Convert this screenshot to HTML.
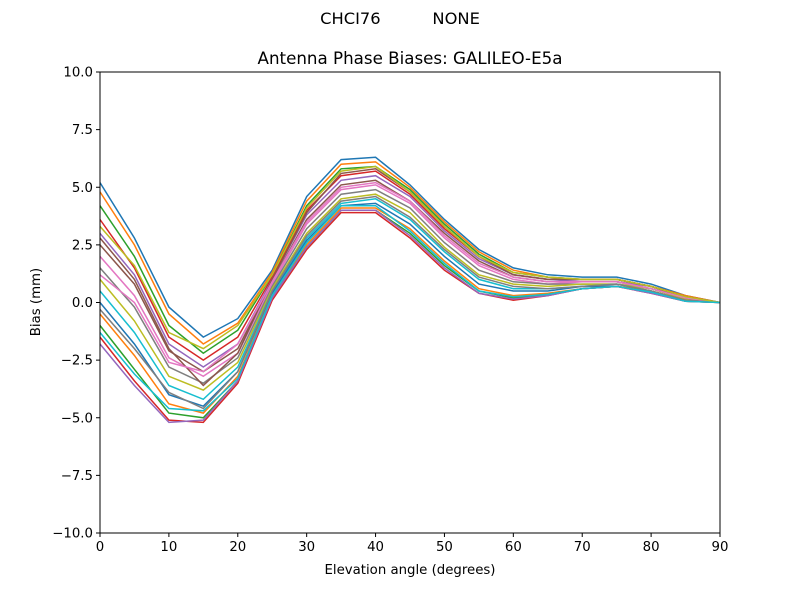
<!DOCTYPE html>
<html><head><meta charset="utf-8"><style>
body{margin:0;background:#fff;}
svg{display:block;font-family:"DejaVu Sans","Liberation Sans",sans-serif;}
</style></head><body>
<svg id="chart" width="800" height="600" viewBox="0 0 800 600" xmlns="http://www.w3.org/2000/svg">
<rect width="800" height="600" fill="#fff"/>
<text x="400" y="24" text-anchor="middle" font-size="16.3" xml:space="preserve">CHCI76          NONE</text>
<text x="410" y="64" text-anchor="middle" font-size="16.7">Antenna Phase Biases: GALILEO-E5a</text>
<g id="lines"></g>
<g id="axes"></g>
<text x="410" y="574" text-anchor="middle" font-size="13.3">Elevation angle (degrees)</text>
<text x="40" y="302" text-anchor="middle" font-size="13.3" transform="rotate(-90 40 302)">Bias (mm)</text>
</svg>
<script>
const elevations=[0,5,10,15,20,25,30,35,40,45,50,55,60,65,70,75,80,85,90];
const xTicks=[0,10,20,30,40,50,60,70,80,90];
const yTicks=[-10,-7.5,-5,-2.5,0,2.5,5,7.5,10];
const yTickLabels=["\u221210.0","\u22127.5","\u22125.0","\u22122.5","0.0","2.5","5.0","7.5","10.0"];
const s1=[5.2,2.8,-0.2,-1.5,-0.7,1.4,4.6,6.2,6.3,5.1,3.6,2.3,1.5,1.2,1.1,1.1,0.8,0.3,0];
const s2=[4.8,2.5,-0.5,-1.8,-0.9,1.3,4.4,6.0,6.1,5.0,3.5,2.2,1.4,1.1,1.0,1.0,0.7,0.3,0];
const s3=[4.2,2.0,-1.0,-2.2,-1.2,1.2,4.2,5.8,5.9,4.9,3.4,2.1,1.3,1.1,1.0,1.0,0.7,0.25,0];
const s4=[3.6,1.5,-1.5,-2.5,-1.5,1.1,4.0,5.5,5.7,4.7,3.2,2.0,1.2,1.0,1.0,1.0,0.7,0.25,0];
const s5=[3.0,1.2,-1.8,-2.8,-1.8,1.0,3.8,5.3,5.5,4.6,3.1,1.9,1.2,1.0,0.9,0.9,0.7,0.2,0];
const s6=[2.5,0.8,-2.1,-3.0,-2.0,0.9,3.6,5.1,5.3,4.4,3.0,1.8,1.1,0.9,0.9,0.9,0.6,0.2,0];
const s7=[2.0,0.3,-2.4,-3.2,-2.2,0.8,3.4,4.9,5.1,4.3,2.8,1.6,1.0,0.8,0.9,0.9,0.6,0.2,0];
const s8=[1.5,-0.2,-2.8,-3.5,-2.4,0.7,3.2,4.7,4.9,4.1,2.6,1.4,0.9,0.8,0.8,0.8,0.6,0.15,0];
const s9=[1.0,-0.8,-3.2,-3.8,-2.6,0.6,3.0,4.5,4.7,3.9,2.4,1.2,0.8,0.7,0.8,0.8,0.6,0.15,0];
const s10=[0.5,-1.3,-3.6,-4.2,-2.8,0.5,2.8,4.3,4.5,3.6,2.2,1.0,0.6,0.6,0.7,0.8,0.5,0.1,0];
const s11=[0,-1.8,-4.0,-4.5,-3.0,0.4,2.7,4.2,4.3,3.4,2.0,0.8,0.5,0.5,0.7,0.7,0.5,0.1,0];
const s12=[-0.5,-2.3,-4.4,-4.8,-3.2,0.3,2.5,4.1,4.1,3.2,1.8,0.6,0.3,0.4,0.6,0.7,0.5,0.1,0];
const s13=[-1.0,-2.9,-4.8,-5.0,-3.4,0.2,2.4,4.0,4.0,3.0,1.6,0.5,0.2,0.35,0.6,0.7,0.45,0.05,0];
const s14=[-1.5,-3.4,-5.1,-5.2,-3.5,0.1,2.3,3.9,3.9,2.8,1.4,0.4,0.1,0.3,0.6,0.7,0.4,0.05,0];
const s15=[-1.8,-3.6,-5.2,-5.1,-3.4,0.2,2.4,4.0,4.0,2.9,1.5,0.4,0.15,0.3,0.6,0.7,0.4,0.05,0];
const s16=[2.8,1.0,-2.0,-3.6,-2.2,1.0,3.9,5.6,5.8,4.8,3.3,2.0,1.2,1.0,1.0,1.0,0.7,0.2,0];
const s17=[1.2,0.0,-2.6,-3.0,-1.8,0.9,3.5,5.0,5.2,4.4,2.9,1.7,1.1,0.9,0.9,0.9,0.6,0.2,0];
const s18=[-0.3,-2.0,-3.9,-4.6,-3.0,0.5,2.9,4.4,4.6,3.7,2.3,1.1,0.7,0.6,0.7,0.8,0.5,0.1,0];
const s19=[3.3,1.6,-1.3,-2.0,-1.0,1.2,4.1,5.7,5.9,4.8,3.3,2.0,1.3,1.1,1.0,1.0,0.7,0.25,0];
const s20=[-1.3,-3.1,-4.6,-4.7,-3.3,0.3,2.6,4.2,4.2,3.1,1.7,0.5,0.25,0.35,0.6,0.7,0.45,0.05,0];
const seriesList=[s1,s2,s3,s4,s5,s6,s7,s8,s9,s10,s11,s12,s13,s14,s15,s16,s17,s18,s19,s20];

const colors=["#1f77b4","#ff7f0e","#2ca02c","#d62728","#9467bd","#8c564b","#e377c2","#7f7f7f","#bcbd22","#17becf"];
const X0=100,X1=720,Y0=533,Y1=72;
const xScale=v=>X0+(v-0)/(90-0)*(X1-X0);
const yScale=v=>Y0-(v+10)/20*(Y0-Y1);
const NS="http://www.w3.org/2000/svg";
const lines=document.getElementById('lines');
seriesList.forEach((s,i)=>{
  const p=document.createElementNS(NS,'polyline');
  p.setAttribute('points',s.map((v,j)=>xScale(elevations[j]).toFixed(1)+','+yScale(v).toFixed(1)).join(' '));
  p.setAttribute('fill','none');
  p.setAttribute('stroke',colors[i%colors.length]);
  p.setAttribute('stroke-width','1.5');
  
  
  lines.appendChild(p);
});
const axes=document.getElementById('axes');
const frame=document.createElementNS(NS,'rect');
frame.setAttribute('x',X0);frame.setAttribute('y',Y1);
frame.setAttribute('width',X1-X0);frame.setAttribute('height',Y0-Y1);
frame.setAttribute('fill','none');frame.setAttribute('stroke','#000');frame.setAttribute('stroke-width','1');


axes.appendChild(frame);
xTicks.forEach(t=>{
  const x=xScale(t);
  const l=document.createElementNS(NS,'line');
  l.setAttribute('x1',x);l.setAttribute('x2',x);l.setAttribute('y1',Y0);l.setAttribute('y2',Y0+4);
  l.setAttribute('stroke','#000');
  
  
  axes.appendChild(l);
  const tx=document.createElementNS(NS,'text');
  tx.setAttribute('x',x);tx.setAttribute('y',Y0+18);tx.setAttribute('text-anchor','middle');tx.setAttribute('font-size','13.3');
  tx.textContent=String(t);
  
  
  axes.appendChild(tx);
});
yTicks.forEach((t,i)=>{
  const y=yScale(t);
  const l=document.createElementNS(NS,'line');
  l.setAttribute('x1',X0-4);l.setAttribute('x2',X0);l.setAttribute('y1',y);l.setAttribute('y2',y);
  l.setAttribute('stroke','#000');
  
  
  axes.appendChild(l);
  const tx=document.createElementNS(NS,'text');
  tx.setAttribute('x',X0-7);tx.setAttribute('y',y+4.5);tx.setAttribute('text-anchor','end');tx.setAttribute('font-size','13.3');
  tx.textContent=yTickLabels[i];
  
  
  axes.appendChild(tx);
});
</script>
</body></html>
